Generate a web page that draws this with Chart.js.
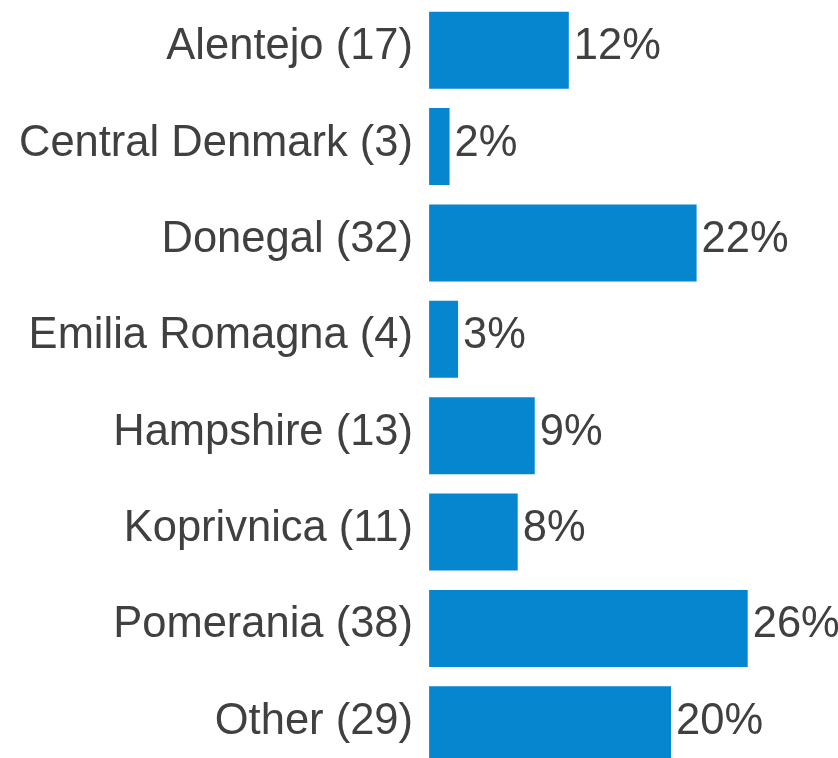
<!DOCTYPE html>
<html>
<head>
<meta charset="utf-8">
<script src="https://cdn.jsdelivr.net/npm/chart.js@4.4.1/dist/chart.umd.min.js"></script>
<style>
  html, body { margin: 0; padding: 0; background: #fff; overflow: hidden; }
  #wrap { width: 838px; height: 775px; }
</style>
</head>
<body>
<div id="wrap"><canvas id="regionChart"></canvas></div>
<script>
// regions and respondent counts
const regions = ['Alentejo', 'Central Denmark', 'Donegal', 'Emilia Romagna', 'Hampshire', 'Koprivnica', 'Pomerania', 'Other'];
const counts = [17, 3, 32, 4, 13, 11, 38, 29];
const percents = [12, 2, 22, 3, 9, 8, 26, 20];

const labels = regions.map((r, i) => r + ' (' + counts[i] + ')');
const textColor = '#404040';
const fontSpec = { family: 'Liberation Sans, Arial, sans-serif', size: 43.5 };

// draws "12%" etc. just past the end of each bar
const percentLabels = {
	id: 'percentLabels',
	afterDatasetsDraw(chart) {
		const ctx = chart.ctx;
		const meta = chart.getDatasetMeta(0);
		ctx.save();
		ctx.font = fontSpec.size + 'px ' + fontSpec.family;
		ctx.fillStyle = textColor;
		ctx.textAlign = 'left';
		ctx.textBaseline = 'middle';
		meta.data.forEach((bar, i) => {
			ctx.fillText(percents[i] + '%', bar.x + 5, bar.y - 3);
		});
		ctx.restore();
	}
};

var ctx = document.getElementById('regionChart').getContext('2d');

var chart = new Chart(ctx, {
	type: 'bar',
	data: {
		labels: labels,
		datasets: [{
			data: counts,
			base: 0.6,
			backgroundColor: '#0586CF',
			borderWidth: 0,
			barPercentage: 0.8,
			categoryPercentage: 1.0
		}]
	},
	options: {
		indexAxis: 'y',
		responsive: true,
		maintainAspectRatio: false,
		animation: false,
		layout: {
			padding: { top: 2, bottom: 2, left: 0, right: 0 }
		},
		plugins: {
			legend: { display: false },
			tooltip: { enabled: false }
		},
		scales: {
			x: {
				display: false,
				min: 0,
				max: 48.6
			},
			y: {
				grid: { display: false, drawTicks: false },
				border: { display: false },
				ticks: {
					color: textColor,
					font: fontSpec,
					padding: 11,
					labelOffset: -3
				},
				afterFit: function(scale) {
					scale.width = 424;  // label column width
					// no extra room above/below for the tall labels
					scale.paddingTop = 0;
					scale.paddingBottom = 0;
				}
			}
		}
	},
	plugins: [percentLabels]
});
</script>
</body>
</html>
